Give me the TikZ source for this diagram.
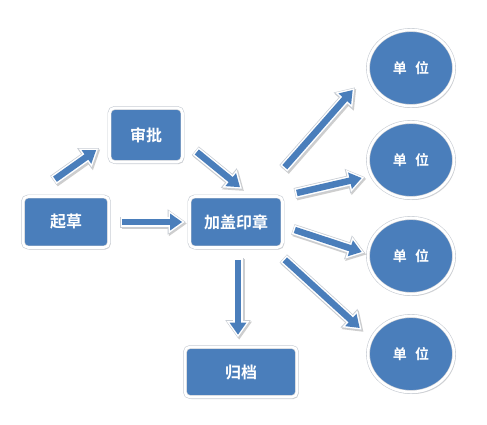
\documentclass[tikz,border=0pt]{standalone}
\usepackage{fontspec}
\newfontfamily\cjk{Noto Sans CJK SC}[BoldFont={Noto Sans CJK SC Bold}]
\usetikzlibrary{arrows.meta,shadows,calc,shapes.geometric}
\definecolor{boxblue}{HTML}{4A7EBB}
\definecolor{rimgray}{HTML}{C8CDD4}
\tikzset{
  boxshadow/.style={drop shadow={fill=black!40,opacity=.4,shadow xshift=1.5pt,shadow yshift=-2pt}},
  rim/.style={draw=rimgray,line width=0.6pt,double=white,double distance=2.6pt},
  stepbox/.style={rectangle,rounded corners=5pt,fill=boxblue,rim,
    boxshadow,text=white,font=\cjk\bfseries\fontsize{16}{16}\selectfont,inner sep=0pt},
  unitnode/.style={ellipse,fill=boxblue,rim,boxshadow,
    minimum width=86pt,minimum height=76pt,inner sep=0pt,text=white,
    font=\cjk\bfseries\fontsize{14}{14}\selectfont},
  blockarrow/.style={draw=boxblue,line width=6.5pt,-{Triangle[length=12pt,width=16pt]},
    preaction={draw=black!35,opacity=.55,line width=11pt,-{Triangle[length=18pt,width=24pt]},
      shorten >=-3.5pt,shorten <=-2pt,transform canvas={xshift=1.2pt,yshift=-1.5pt}},
    preaction={draw=rimgray,line width=11pt,-{Triangle[length=18pt,width=24pt]},
      shorten >=-3.5pt,shorten <=-2pt},
    preaction={draw=white,line width=9.5pt,-{Triangle[length=16pt,width=21.5pt]},
      shorten >=-2.5pt,shorten <=-1.5pt}}
}
\begin{document}
\begin{tikzpicture}[x=1pt,y=-1pt]
\useasboundingbox[fill=white] (0,0) rectangle (487,425);
\node[stepbox,minimum width=86pt,minimum height=51pt] (qicao) at (66,222) {起草};
\node[stepbox,minimum width=73pt,minimum height=54pt] (shenpi) at (146,135) {审批};
\node[stepbox,minimum width=93pt,minimum height=51pt] (gaizhang) at (236,222) {加盖印章};
\node[stepbox,minimum width=112pt,minimum height=50pt] (guidang) at (241,372) {归档};
\node[unitnode] (u1) at (411,68) {单\hspace{0.6em}位};
\node[unitnode] (u2) at (411,160) {单\hspace{0.6em}位};
\node[unitnode] (u3) at (411,256) {单\hspace{0.6em}位};
\node[unitnode] (u4) at (411,354) {单\hspace{0.6em}位};
\draw[blockarrow] ($(qicao.north)+(-11,-17)$) -- ($(shenpi.west)+(-13,15)$);
\draw[blockarrow] ($(qicao.east)+(13,0)$) -- ($(gaizhang.west)+(-7,0)$);
\draw[blockarrow] ($(shenpi.east)+(14,17)$) -- ($(gaizhang.north)+(4,-9)$);
\draw[blockarrow] ($(gaizhang.south)+(2,12)$) -- ($(guidang.north)+(-3,-12)$);
\draw[blockarrow] ($(gaizhang.north east)+(2,-29)$) -- ($(u1.west)+(-15,22)$);
\draw[blockarrow] ($(gaizhang.east)+(14,-29)$) -- ($(u2.west)+(-6,18)$);
\draw[blockarrow] ($(gaizhang.east)+(12,8)$) -- ($(u3.west)+(-6,-4)$);
\draw[blockarrow] ($(gaizhang.south east)+(2,12)$) -- ($(u4.west)+(-8,-26)$);
\end{tikzpicture}
\end{document}
